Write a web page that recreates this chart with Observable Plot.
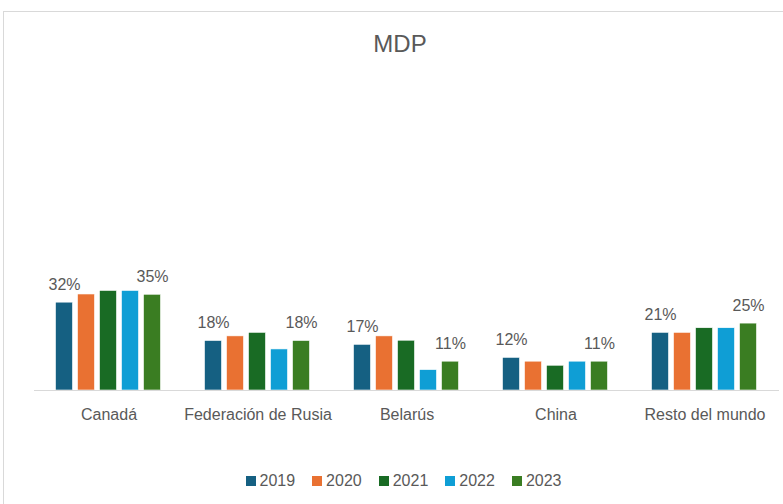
<!DOCTYPE html>
<html>
<head>
<meta charset="utf-8">
<script src="https://cdn.jsdelivr.net/npm/d3@7"></script>
<script src="https://cdn.jsdelivr.net/npm/@observablehq/plot@0.6"></script>
<style>
  html, body { margin: 0; padding: 0; background: #fff; overflow: hidden; }
  #page { position: relative; width: 783px; height: 504px; font-family: "Liberation Sans", Arial, sans-serif; color: #595959; }
  #frame { position: absolute; left: 3px; top: 11px; width: 820px; height: 540px; border: 1px solid #d9d9d9; box-sizing: border-box; }
  #title { position: absolute; left: 0; top: 30px; width: 800px; text-align: center; font-size: 24px; line-height: 28px; }
  #chart { position: absolute; left: 0; top: 60px; }
  #legend { position: absolute; left: 8px; top: 464px; width: 808px; display: flex; justify-content: center; }
  #legend svg { margin-right: 4px !important; }
  #legend span, #legend div { font-size: 16px !important; color: #595959; }
  #legend span { margin-right: 17px !important; }
</style>
</head>
<body>
<div id="page">
  <div id="frame"></div>
  <div id="title">MDP</div>
  <div id="chart"></div>
  <div id="legend"></div>
</div>
<script>
const countries = ["Canadá", "Federación de Rusia", "Belarús", "China", "Resto del mundo"];
const years = ["2019", "2020", "2021", "2022", "2023"];
const colors = ["#156082", "#E97132", "#196B24", "#0F9ED5", "#3A7D22"];
const v2019 = [32.3, 18.2, 16.8, 12.0, 21.2];
const v2020 = [35.3, 19.9, 19.9, 10.6, 21.2];
const v2021 = [36.6, 21.2, 18.3, 9.1, 22.9];
const v2022 = [36.6, 15.1, 7.5, 10.6, 22.9];
const v2023 = [35.2, 18.2, 10.6, 10.6, 24.6];
const labelYears = ["2019", "2023"];

const series = [v2019, v2020, v2021, v2022, v2023];
const table = [];
countries.forEach((c, i) => {
  years.forEach((y, j) => {
    table.push({country: c, year: y, value: series[j][i]});
  });
});

const chart = Plot.plot({
  width: 783,
  height: 380,
  marginTop: 58,
  marginBottom: 50,
  marginLeft: 33.5,
  marginRight: 4.5,
  style: {fontFamily: "'Liberation Sans', Arial, sans-serif", fontSize: "16px", color: "#595959", background: "transparent"},
  fx: {domain: countries, padding: 0, label: null, tickSize: 0, tickPadding: 18},
  x: {domain: years, axis: null, paddingInner: 5 / 23, paddingOuter: 0.848},
  y: {domain: [0, 100], axis: null},
  color: {domain: years, range: colors},
  marks: [
    Plot.barY(table, {fx: "country", x: "year", y: "value", fill: "year", stroke: "white", strokeWidth: 0.6}),
    Plot.ruleY([0], {stroke: "#d9d9d9", strokeWidth: 1}),
    Plot.text(table.filter(d => labelYears.includes(d.year)), {
      fx: "country", x: "year", y: "value",
      text: d => Math.round(d.value) + "%",
      dy: -18, fill: "#595959", fontSize: 16
    })
  ]
});
document.getElementById("chart").appendChild(chart);

const legend = Plot.legend({
  color: {domain: years, range: colors},
  legend: "swatches",
  swatchSize: 10,
  style: {fontFamily: "'Liberation Sans', Arial, sans-serif", fontSize: "16px", color: "#595959"}
});
document.getElementById("legend").appendChild(legend);
</script>
</body>
</html>
